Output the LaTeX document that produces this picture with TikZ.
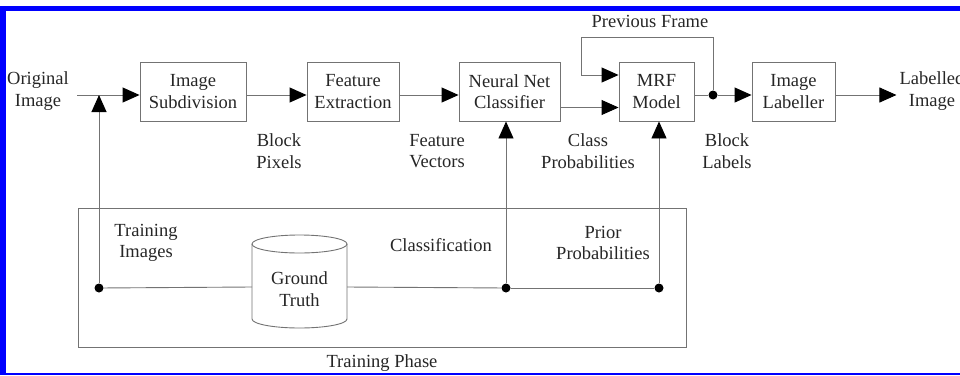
\documentclass[tikz,border=0pt]{standalone}
\usepackage{fontspec}
\setmainfont{Liberation Serif}
\usetikzlibrary{arrows.meta}
\definecolor{frameblue}{RGB}{0,0,255}
\tikzset{
  txt/.style={align=center, font=\fontsize{18.5}{21.5}\selectfont, text=black!85, inner sep=1pt},
  blk/.style={txt, draw=black!55, line width=0.9pt, minimum height=59pt},
  ln/.style={draw=black!55, line width=0.9pt},
  arr/.style={ln, -{Triangle[length=17pt,width=15pt,color=black]}},
  dot/.style={circle, fill=black, inner sep=0pt, minimum size=9pt},
}
\begin{document}
\begin{tikzpicture}[x=1pt,y=1pt]
\useasboundingbox (0,0) rectangle (960,-375);
% blue frame
\fill[frameblue] (0,-6) rectangle (960,-11);
\fill[frameblue] (0,-6) rectangle (6,-375);
\fill[frameblue] (0,-373) rectangle (960,-375);

% training phase frame
\node[ln, minimum width=608pt, minimum height=139pt, inner sep=0pt] (tp) at (382,-277.5) {};
\node[txt] (tpl) at (382,-363) {Training Phase};

% main blocks
\node[blk, minimum width=106pt] (sub) at (193,-91.5) {Image\\Subdivision};
\node[blk, minimum width=92pt] (feat) at (353,-91.5) {Feature\\Extraction};
\node[blk, minimum width=101pt] (nn) at (509.5,-91.5) {Neural Net\\Classifier};
\node[blk, minimum width=75pt] (mrf) at (656.5,-91.5) {MRF\\Model};
\node[blk, minimum width=83pt] (lab) at (793.5,-91.5) {Image\\Labeller};

% end texts
\node[txt] (orig) at (38,-91) {Original\\Image};
\node[txt, inner sep=3pt] (out) at (932,-91) {Labelled\\Image};

% labels
\node[txt] (bp) at (279,-151) {Block\\Pixels};
\node[txt] (fv) at (437,-151) {Feature\\Vectors};
\node[txt] (cp) at (588,-151) {Class\\Probabilities};
\node[txt] (bl) at (727,-151) {Block\\Labels};
\node[txt] (pfl) at (650,-21) {Previous Frame};
\node[txt] (ti) at (146,-243) {Training\\Images};
\node[txt] (cl) at (441,-245) {Classification};
\node[txt] (pp) at (603,-243) {Prior\\Probabilities};

% cylinder
\draw[ln, fill=white] (252,-244) -- (252,-319) arc[start angle=180,end angle=360,x radius=47.5pt,y radius=9pt] -- (347,-244);
\draw[ln] (299.5,-244) ellipse[x radius=47.5pt, y radius=9pt];
\node[txt] (gt) at (299.5,-289) {Ground\\Truth};
\coordinate (gtw) at (252,-287);
\coordinate (gte) at (347,-287);

% dots
\node[dot] (d1) at (99,-288) {};
\node[dot] (d2) at (506,-288) {};
\node[dot] (d3) at (659,-288) {};
\node[dot] (d4) at (713,-95) {};

% coordinates
\coordinate (in1) at (77,-95);
\coordinate (j1) at (99,-95);
\coordinate (cpy) at (0,-107.5);
\coordinate (pfy) at (0,-75);
\coordinate (pf) at (581,-37);

% connectors
\draw[arr] (in1) -- (sub.west |- in1);
\draw[arr] (d1) -- (j1);
\draw[arr] (sub.east |- in1) -- (feat.west |- in1);
\draw[arr] (feat.east |- in1) -- (nn.west |- in1);
\draw[arr] (nn.east |- cpy) -- (mrf.west |- cpy);
\draw[ln] (mrf.east |- in1) -- (d4);
\draw[arr] (d4) -- (lab.west |- in1);
\draw[arr] (d4) |- (pf) |- (mrf.west |- pfy);
\draw[arr] (lab.east |- in1) -- (out.west |- in1);
\draw[arr] (d2) -- (d2 |- nn.south);
\draw[arr] (d3) -- (d3 |- mrf.south);
\draw[ln] (d1) -- (gtw);
\draw[ln] (gte) -- (d2);
\draw[ln] (d2) -- (d3);
\end{tikzpicture}
\end{document}
